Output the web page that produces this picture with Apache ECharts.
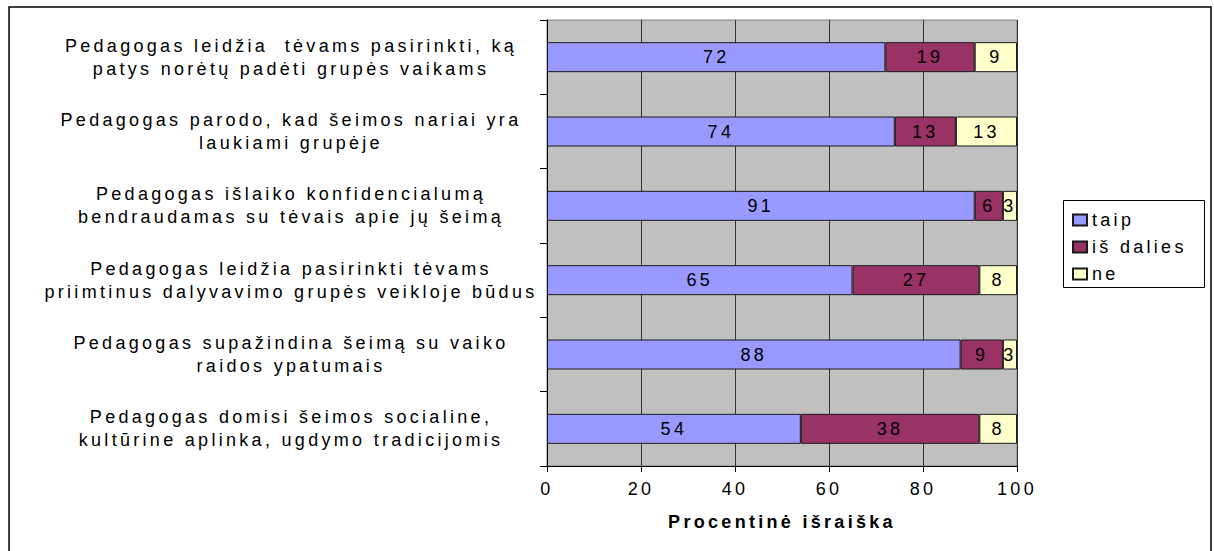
<!DOCTYPE html>
<html>
<head>
<meta charset="utf-8">
<script src="https://cdn.jsdelivr.net/npm/echarts@6/dist/echarts.min.js"></script>
<style>
  html, body { margin: 0; padding: 0; background: #fff; }
  #chart { width: 1214px; height: 551px; }
  /* wide tracking of the Excel-style lettering */
  #chart text { letter-spacing: 3.3px !important; }
</style>
</head>
<body>
<div id="chart"></div>
<script>
// Survey statements (top to bottom)
const categories = [
  'Pedagogas leidžia  tėvams pasirinkti, ką\npatys norėtų padėti grupės vaikams',
  'Pedagogas parodo, kad šeimos nariai yra\nlaukiami grupėje',
  'Pedagogas išlaiko konfidencialumą\nbendraudamas su tėvais apie jų šeimą',
  'Pedagogas leidžia pasirinkti tėvams\npriimtinus dalyvavimo grupės veikloje būdus',
  'Pedagogas supažindina šeimą su vaiko\nraidos ypatumais',
  'Pedagogas domisi šeimos socialine,\nkultūrine aplinka, ugdymo tradicijomis'
];

// Answer shares, percent
const taip = [72, 74, 91, 65, 88, 54];
const isDalies = [19, 13, 6, 27, 9, 38];
const ne = [9, 13, 3, 8, 3, 8];

const seriesNames = ['taip', 'iš dalies', 'ne'];
const seriesColors = ['#9999FF', '#993366', '#FFFFCC'];
const xTicks = { min: 0, max: 100, interval: 20 };
const axisTitle = 'Procentinė išraiška';

const FONT = "'Liberation Sans', Arial, sans-serif";
const FS = 18;

function makeSeries(name, data, color) {
  return {
    name: name,
    type: 'bar',
    stack: 'total',
    data: data,
    barWidth: 30,
    itemStyle: { color: color, borderColor: '#1a1a1a', borderWidth: 1 },
    label: {
      show: true,
      position: 'inside',
      color: '#000',
      fontSize: FS,
      fontFamily: FONT
    },
    emphasis: { disabled: true }
  };
}

const chart = echarts.init(document.getElementById('chart'), null, { renderer: 'svg' });

chart.setOption({
  animation: false,
  backgroundColor: '#ffffff',
  textStyle: { fontFamily: FONT },
  grid: {
    left: 547, right: 197, top: 20, bottom: 85,
    show: true,
    backgroundColor: '#C0C0C0',
    borderColor: '#808080',
    borderWidth: 1,
    outerBoundsMode: 'none'
  },
  legend: {
    orient: 'vertical',
    left: 1072,
    top: 211,
    padding: 0,
    itemWidth: 14,
    itemHeight: 11,
    itemGap: 9,
    icon: 'rect',
    selectedMode: false,
    textStyle: { color: '#000', fontSize: FS, fontFamily: FONT },
    data: seriesNames
  },
  xAxis: {
    type: 'value',
    min: xTicks.min,
    max: xTicks.max,
    interval: xTicks.interval,
    name: axisTitle,
    nameLocation: 'middle',
    nameGap: 47,
    nameTextStyle: { color: '#000', fontSize: FS, fontWeight: 'bold', fontFamily: FONT },
    axisLine: { show: true, lineStyle: { color: '#000', width: 1 } },
    axisTick: { show: true, length: 6, lineStyle: { color: '#000' } },
    axisLabel: { color: '#000', fontSize: FS, margin: 14, fontFamily: FONT },
    splitLine: { show: true, lineStyle: { color: '#333333', width: 1 } }
  },
  yAxis: {
    type: 'category',
    inverse: true,
    data: categories,
    axisLine: { show: true, lineStyle: { color: '#000', width: 1 } },
    axisTick: { show: true, length: 7, lineStyle: { color: '#000' } },
    axisLabel: {
      interval: 0,
      color: '#000',
      fontSize: FS,
      lineHeight: 23,
      align: 'center',
      margin: 256,
      fontFamily: FONT
    },
    splitLine: { show: false }
  },
  graphic: [{
    type: 'rect',
    silent: true,
    shape: { x: 9, y: 7, width: 1202, height: 600 },
    style: { fill: 'none', stroke: '#000', lineWidth: 1.5 }
  }, {
    type: 'rect',
    silent: true,
    shape: { x: 1063.5, y: 200.5, width: 141, height: 87 },
    style: { fill: '#fff', stroke: '#000', lineWidth: 1 },
    z: -1
  }],
  series: [
    makeSeries(seriesNames[0], taip, seriesColors[0]),
    makeSeries(seriesNames[1], isDalies, seriesColors[1]),
    makeSeries(seriesNames[2], ne, seriesColors[2])
  ]
});
</script>
</body>
</html>
